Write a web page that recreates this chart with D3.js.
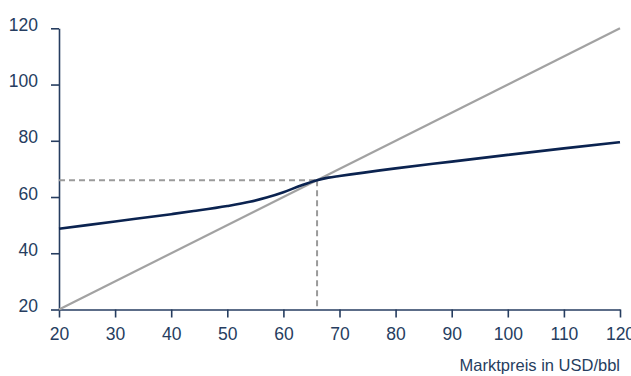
<!DOCTYPE html>
<html><head><meta charset="utf-8">
<script src="https://cdn.jsdelivr.net/npm/d3@7"></script>
<style>
html,body{margin:0;padding:0;background:#fff;}
svg{display:block;font-family:"Liberation Sans",Arial,sans-serif;}
</style></head>
<body>
<svg id="chart" width="631" height="376"></svg>
<script>
const xTicks = [20,30,40,50,60,70,80,90,100,110,120];
const yTicks = [20,40,60,80,100,120];
const curveX = [20,30,40,44,50,54,57,60,63,66,68,70,80,90,100,110,120];
const curveY = [48.7,51.3,53.9,55.0,56.8,58.3,59.8,61.7,64.0,66.0,66.9,67.5,70.2,72.6,75.0,77.3,79.5];
const diagX = [20,120];
const diagY = [20,120];
const crossPoint = [66,66];
const xTitle = "Marktpreis in USD/bbl";

const svg = d3.select("#chart");
const x = d3.scaleLinear().domain([20,120]).range([59,620]);
const y = d3.scaleLinear().domain([20,120]).range([309.5,28.3]);
const navy = "#263d60";

// axes
const gx = svg.append("g").attr("transform",`translate(0,${y(20)})`)
  .call(d3.axisBottom(x).tickValues(xTicks).tickSize(8).tickSizeOuter(0).tickPadding(10));
const gy = svg.append("g").attr("transform",`translate(${x(20)},0)`)
  .call(d3.axisLeft(y).tickValues(yTicks).tickSize(8).tickSizeOuter(0).tickPadding(13));
[gx,gy].forEach(g=>{
  g.select(".domain").attr("stroke",navy).attr("stroke-width",1.6);
  g.selectAll(".tick line").attr("stroke",navy).attr("stroke-width",1.6);
  g.selectAll(".tick text").attr("fill",navy).style("font-size","17.5px").style("font-family","'Liberation Sans',Arial,sans-serif");
});
gy.selectAll(".tick text").attr("dy","0.12em");

// dashed guides
const dash = svg.append("g").attr("stroke","#9a9a9a").attr("stroke-width",2).attr("stroke-dasharray","6,4").attr("fill","none");
dash.append("line").attr("x1",x(20)).attr("x2",x(crossPoint[0])).attr("y1",y(crossPoint[1])).attr("y2",y(crossPoint[1]));
dash.append("line").attr("x1",x(crossPoint[0])).attr("x2",x(crossPoint[0])).attr("y1",y(crossPoint[1])).attr("y2",y(20));

// diagonal
const line = d3.line().x(d=>x(d[0])).y(d=>y(d[1]));
svg.append("path").datum(diagX.map((v,i)=>[v,diagY[i]]))
  .attr("d",line).attr("fill","none").attr("stroke","#a2a2a2").attr("stroke-width",2.2);

// curve
svg.append("path").datum(curveX.map((v,i)=>[v,curveY[i]]))
  .attr("d",line.curve(d3.curveMonotoneX)).attr("fill","none").attr("stroke","#0b2350").attr("stroke-width",2.6);

svg.append("text").attr("x",620).attr("y",371).attr("text-anchor","end")
  .attr("fill",navy).style("font-size","16.5px").text(xTitle);
</script>
</body></html>
